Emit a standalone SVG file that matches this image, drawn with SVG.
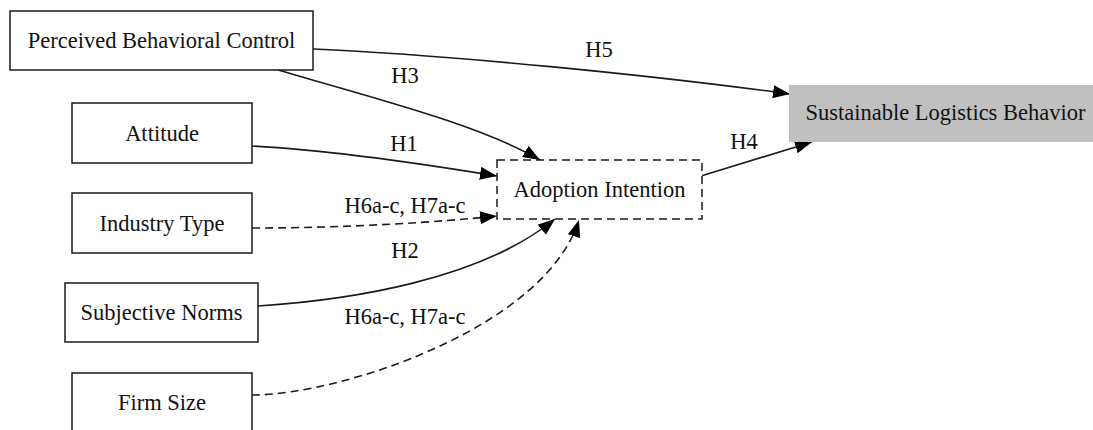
<svg xmlns="http://www.w3.org/2000/svg" width="1093" height="430" viewBox="0 0 1093 430">
  <style>
    .box { fill: #ffffff; stroke: #1a1a1a; stroke-width: 1.5; }
    .dbox { fill: #ffffff; stroke: #1a1a1a; stroke-width: 1.5; stroke-dasharray: 8 5; }
    .gbox { fill: #c0c0c0; stroke: none; }
    .lbl { font-family: "Liberation Serif", "Times New Roman", serif; font-size: 22.5px; fill: #111111; text-anchor: middle; }
    .edge { fill: none; stroke: #1a1a1a; stroke-width: 1.6; marker-end: url(#arrow); }
    .dashed { stroke-dasharray: 8 5; }
  </style>
  <defs>
    <marker id="arrow" markerUnits="userSpaceOnUse" markerWidth="18" markerHeight="14" refX="17" refY="6.5" orient="auto">
      <path d="M0,0 L17,6.5 L0,13 z" fill="#000000"/>
    </marker>
  </defs>
  <rect width="1093" height="430" fill="#ffffff"/>

  <g id="connectors">
    <g id="e-pbc-slb">
      <path class="edge" d="M313,49 C450,55 650,75 790,94"/>
      <text class="lbl" x="599" y="57">H5</text>
    </g>
    <g id="e-pbc-ai">
      <path class="edge" d="M278,70 C380,100 480,125 540,160"/>
      <text class="lbl" x="405" y="83">H3</text>
    </g>
    <g id="e-att-ai">
      <path class="edge" d="M252,146 C330,150 430,165 497,176"/>
      <text class="lbl" x="404" y="151">H1</text>
    </g>
    <g id="e-ind-ai">
      <path class="edge dashed" d="M252,228 C350,228 440,222 497,216"/>
      <text class="lbl" x="405" y="213">H6a-c, H7a-c</text>
    </g>
    <g id="e-sn-ai">
      <path class="edge" d="M258,306 C350,300 480,280 555,219"/>
      <text class="lbl" x="405" y="258">H2</text>
    </g>
    <g id="e-fs-ai">
      <path class="edge dashed" d="M252,395 C340,395 545,328 579,220"/>
      <text class="lbl" x="405" y="324">H6a-c, H7a-c</text>
    </g>
    <g id="e-ai-slb">
      <path class="edge" d="M701,176 L812,142"/>
      <text class="lbl" x="744" y="149">H4</text>
    </g>
  </g>

  <g id="pbc">
    <rect class="box" x="10" y="11" width="303" height="59"/>
    <text class="lbl" x="161.5" y="48">Perceived Behavioral Control</text>
  </g>
  <g id="attitude">
    <rect class="box" x="72" y="103" width="180" height="60"/>
    <text class="lbl" x="162" y="141">Attitude</text>
  </g>
  <g id="industry">
    <rect class="box" x="72" y="193" width="180" height="60"/>
    <text class="lbl" x="162" y="230.5">Industry Type</text>
  </g>
  <g id="subjective">
    <rect class="box" x="65" y="283" width="193" height="59"/>
    <text class="lbl" x="161.5" y="320">Subjective Norms</text>
  </g>
  <g id="firmsize">
    <rect class="box" x="72" y="373" width="180" height="60"/>
    <text class="lbl" x="162" y="410">Firm Size</text>
  </g>
  <g id="adoption">
    <rect class="dbox" x="497" y="160" width="205" height="59"/>
    <text class="lbl" x="599.5" y="197">Adoption Intention</text>
  </g>
  <g id="slb">
    <rect class="gbox" x="789" y="85" width="310" height="57"/>
    <text class="lbl" x="945.5" y="120">Sustainable Logistics Behavior</text>
  </g>
</svg>
